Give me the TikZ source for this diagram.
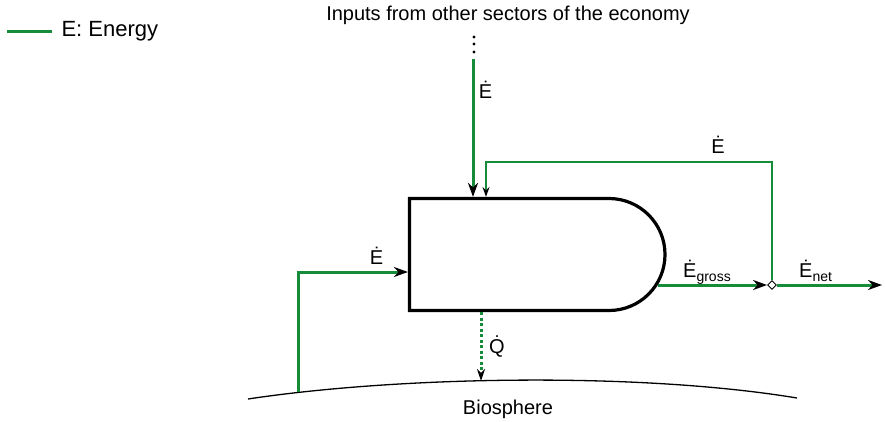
\documentclass[tikz,border=0pt]{standalone}
\usepackage{fontspec}
\setmainfont{Liberation Sans}
\usetikzlibrary{arrows.meta,shapes.geometric,shapes.misc}
\definecolor{energygreen}{RGB}{22,140,58}
\newcommand{\lowtext}[1]{\raisebox{-4pt}{\fontsize{14}{14}\selectfont #1}}
\tikzset{
  energy/.style={draw=energygreen, line width=3pt},
  feedback/.style={draw=energygreen, line width=1.5pt},
  heat/.style={draw=energygreen, line width=3pt, dash pattern=on 3pt off 2.5pt},
  lbl/.style={font=\fontsize{20}{24}\selectfont, inner sep=0pt, anchor=base},
}
\begin{document}
\begin{tikzpicture}[x=1pt, y=-1pt, >={Stealth[length=14pt, width=10pt, inset=4.5pt, color=black]}]
  \useasboundingbox (0,0) rectangle (885,421);
  % legend
  \draw[energy] (7,31) -- (52,31) node[lbl, anchor=west, font=\fontsize{22}{26}\selectfont, xshift=8pt] (legend) {E: Energy};
  % process box and biosphere
  \node[draw, line width=3.2pt, rounded rectangle, rounded rectangle left arc=none,
        minimum width=255.5pt, minimum height=112pt, inner sep=0pt] (box) at (537.25,254.5) {};
  \draw[line width=1.3pt] (248,399) .. controls (400,376) and (640,372) .. (797,398);
  \node[lbl] (bio) at (508,414) {Biosphere};
  \node[lbl] (inputs) at (508,20) {Inputs from other sectors of the economy};
  \node[draw, diamond, fill=white, line width=0.9pt, minimum size=9pt, inner sep=0pt] (junc) at (772,285) {};
  \coordinate (in) at (473,59);
  \coordinate (fbk) at (486,162);
  \coordinate (bioL) at (298,392);
  \coordinate (feed) at (298,272);
  \coordinate (bioQ) at (481,381);
  \coordinate (out) at (882,285);
  % inputs
  \foreach \y in {37,44,52} \fill (474,\y) circle (1.7pt);
  \draw[energy,->] (in) -- (in |- box.north);
  \draw[energy,->] (bioL) -- (feed) -- (feed -| box.west);
  % outputs
  \draw[energy,->] ([xshift=-9pt]box.east |- junc) -- (junc.west);
  \draw[energy,->] (junc.east) -- (out);
  \draw[feedback,->, >={Stealth[length=10pt, width=7pt, inset=3.5pt, color=black]}] (junc.north) |- (fbk) -- (fbk |- box.north);
  \draw[heat,->, >={Stealth[length=12pt, width=8pt, inset=4pt, color=black]}] (box.south -| bioQ) -- (bioQ);
  % labels
  \node[lbl] (e1) at (485.5,98) {\.{E}};
  \node[lbl] (e2) at (376.5,264) {\.{E}};
  \node[lbl] (e3) at (718,153) {\.{E}};
  \node[lbl] (q) at (497,353) {\.{Q}};
  \node[lbl, anchor=base west] (egross) at (683,277) {\.{E}\lowtext{gross}};
  \node[lbl, anchor=base west] (enet) at (799,277) {\.{E}\lowtext{net}};
\end{tikzpicture}
\end{document}
